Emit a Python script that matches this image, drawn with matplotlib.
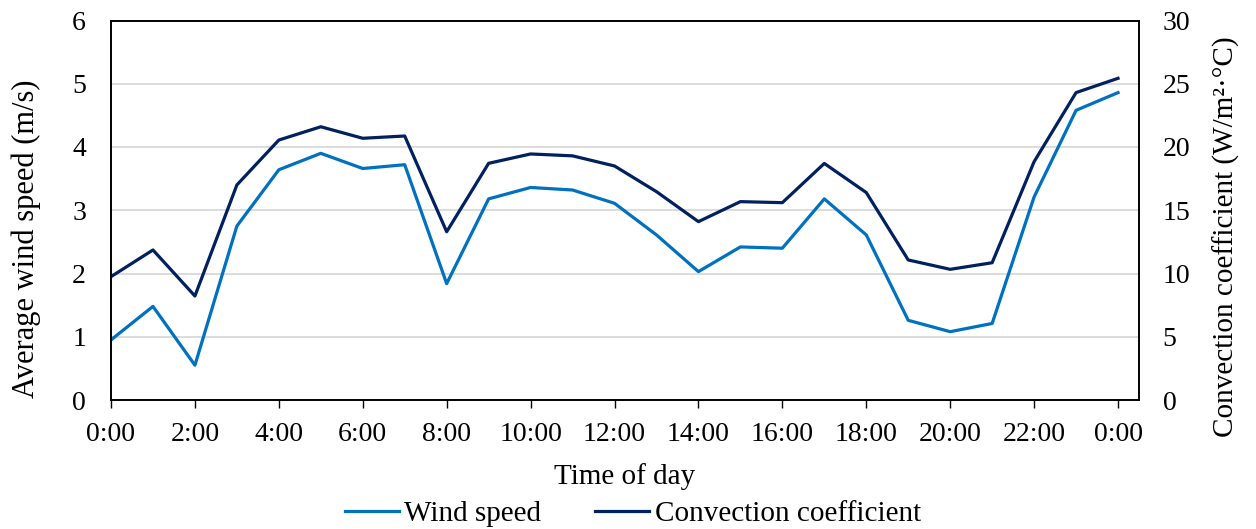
import matplotlib
matplotlib.use("Agg")
import matplotlib.pyplot as plt

plt.rcParams["font.family"] = ["Liberation Serif", "DejaVu Serif"]

hours = list(range(25))
tick_hours = list(range(0, 25, 2))
tick_labels = ["0:00", "2:00", "4:00", "6:00", "8:00", "10:00", "12:00",
               "14:00", "16:00", "18:00", "20:00", "22:00", "0:00"]

wind_speed = [0.95, 1.48, 0.55, 2.75, 3.64, 3.90, 3.66, 3.72, 1.84, 3.18,
              3.36, 3.32, 3.11, 2.61, 2.03, 2.42, 2.40, 3.18, 2.61, 1.26,
              1.08, 1.21, 3.21, 4.58, 4.86]
convection = [9.75, 11.86, 8.22, 17.0, 20.55, 21.6, 20.69, 20.87, 13.3, 18.71,
              19.45, 19.3, 18.5, 16.47, 14.1, 15.68, 15.6, 18.7, 16.4, 11.07,
              10.33, 10.85, 18.84, 24.3, 25.43]

wind_color = "#0070C0"
conv_color = "#002060"

fig = plt.figure(figsize=(12.56, 5.29), dpi=100)
ax = fig.add_axes([111 / 1256, 1 - 400 / 529, (1139 - 111) / 1256, (400 - 20.5) / 529])
ax2 = ax.twinx()

ax.set_xlim(0, 24.5)
ax.set_ylim(0, 6)
ax2.set_ylim(0, 30)

ax.set_yticks(range(0, 7))
ax2.set_yticks(range(0, 31, 5))
ax.yaxis.grid(True, color="#D9D9D9", linewidth=1.3)
ax.set_axisbelow(True)

l1, = ax.plot(hours, wind_speed, color=wind_color, linewidth=2.3, label="Wind speed")
l2, = ax2.plot(hours, convection, color=conv_color, linewidth=2.3, label="Convection coefficient")

ax.set_xticks(tick_hours)
ax.set_xticklabels(tick_labels)
ax.tick_params(axis="x", direction="out", length=6, width=1, pad=10, labelsize=20)
ax.tick_params(axis="y", length=0, pad=18, labelsize=20)
ax2.tick_params(axis="y", length=0, pad=17, labelsize=20)

for a in (ax, ax2):
    for s in a.spines.values():
        s.set_color("black")
        s.set_linewidth(1.2)

ax.set_xlabel("Time of day", fontsize=21)
ax.xaxis.set_label_coords(0.5, -0.165)
ax.set_ylabel("Average wind speed (m/s)", fontsize=22)
ax.yaxis.set_label_coords(-0.068, 0.424)
ax2.set_ylabel("Convection coefficient (W/m²·°C)", fontsize=21)
ax2.yaxis.set_label_coords(1.072, 0.43)

fig.legend(handles=[l1, l2], loc="center", bbox_to_anchor=(0.504, 1 - 514 / 529),
           ncol=2, frameon=False, fontsize=21, handlelength=1.85,
           handletextpad=0.18, columnspacing=1.85, borderpad=0, borderaxespad=0)

fig.savefig("out.png", dpi=100)
